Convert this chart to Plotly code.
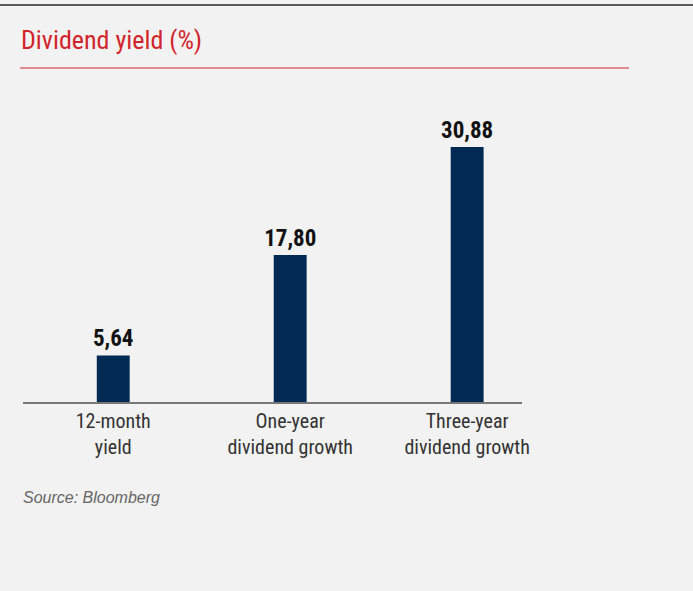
import plotly.graph_objects as go

# Dividend metrics (%)
categories = ["12-month<br>yield", "One-year<br>dividend growth", "Three-year<br>dividend growth"]
values = [5.64, 17.80, 30.88]

W, H = 693, 591
NARROW = "Liberation Sans Narrow, Roboto Condensed, Arial Narrow, sans-serif"

fig = go.Figure(
    go.Bar(
        x=categories,
        y=values,
        width=0.186,
        marker=dict(color="#002a54", line=dict(width=0)),
        texttemplate="%{y:.2f}",
        textposition="outside",
        constraintext="none",
        cliponaxis=False,
        textfont=dict(family=NARROW, size=23, color="#111111", weight="bold"),
        hoverinfo="skip",
    )
)

base_y = 402
top_y = 100
fig.update_layout(
    width=W,
    height=H,
    margin=dict(l=0, r=0, t=0, b=0, autoexpand=False),
    paper_bgcolor="#f2f2f2",
    plot_bgcolor="#f2f2f2",
    separators=",.",
    showlegend=False,
    xaxis=dict(
        domain=[23 / W, 522 / W],
        range=[-0.51, 2.31],
        automargin=False,
        showline=True,
        linecolor="#777777",
        linewidth=2,
        showgrid=False,
        ticks="",
        tickfont=dict(family=NARROW, size=20, color="#333333"),
        fixedrange=True,
    ),
    yaxis=dict(
        domain=[(H - base_y) / H, (H - top_y) / H],
        range=[0, 36.57],
        visible=False,
        automargin=False,
        fixedrange=True,
    ),
    shapes=[
        dict(type="line", xref="paper", yref="paper", x0=0, x1=1,
             y0=1 - 5 / H, y1=1 - 5 / H, line=dict(color="#5a5a5a", width=2)),
        dict(type="line", xref="paper", yref="paper", x0=20 / W, x1=629 / W,
             y0=1 - 68 / H, y1=1 - 68 / H, line=dict(color="#d2232a", width=1.2)),
    ],
    annotations=[
        dict(text="Dividend yield (%)", xref="paper", yref="paper",
             x=19 / W, y=1 - 40 / H, xanchor="left", yanchor="middle",
             showarrow=False,
             font=dict(family=NARROW, size=26, color="#d2232a")),
        dict(text="<i>Source: Bloomberg</i>", xref="paper", yref="paper",
             x=21 / W, y=1 - 497 / H, xanchor="left", yanchor="middle",
             showarrow=False,
             font=dict(family="Liberation Sans, Arial, sans-serif", size=16, color="#666666")),
    ],
)

fig.write_html("out.html")
